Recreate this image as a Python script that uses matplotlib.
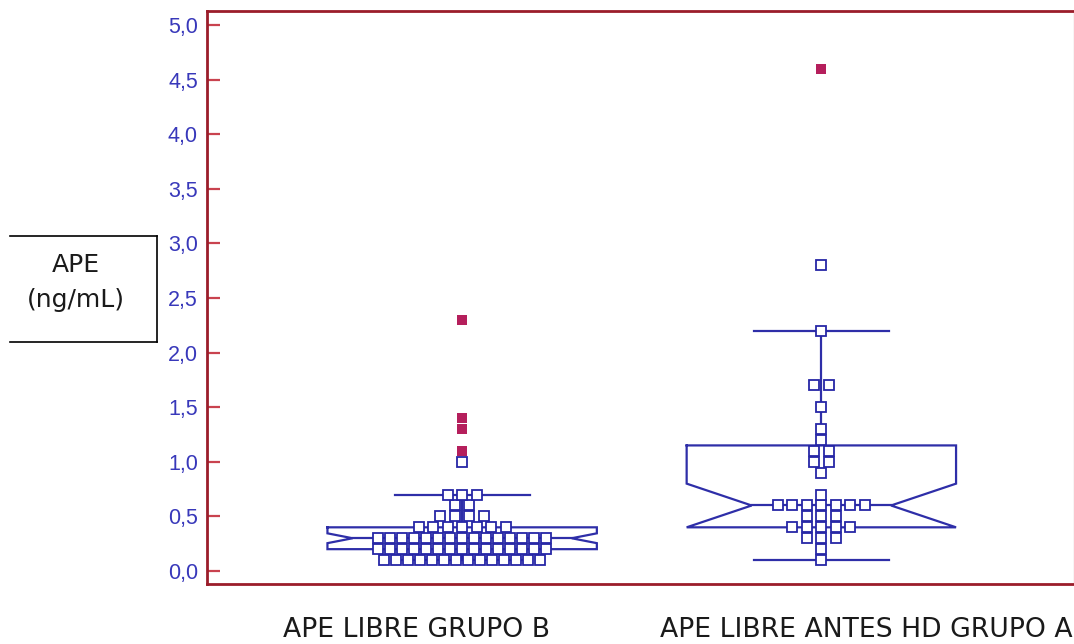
import numpy as np
import matplotlib
matplotlib.use('Agg')
import matplotlib.pyplot as plt
from matplotlib.lines import Line2D

# data (APE libre, ng/mL)
group_labels = ['APE LIBRE GRUPO B', 'APE LIBRE ANTES HD GRUPO A']

# dot values and how many dots sit at each value
b_values = [0.1, 0.2, 0.3, 0.4, 0.5, 0.6, 0.7, 1.0]
b_counts = [14, 15, 15, 7, 4, 2, 3, 1]
b_far_out = [1.1, 1.3, 1.4, 2.3]

a_values = [0.1, 0.2, 0.3, 0.4, 0.5, 0.6, 0.7, 0.9, 1.0, 1.1, 1.2, 1.3, 1.5, 1.7, 2.2, 2.8]
a_counts = [1, 1, 3, 5, 3, 7, 1, 1, 2, 2, 1, 1, 1, 2, 1, 1]
a_far_out = [4.6]

# box statistics: q1, median, q3, lower whisker, upper whisker, notch low, notch high
b_box = [0.20, 0.30, 0.40, 0.10, 0.70, 0.255, 0.345]
a_box = [0.40, 0.60, 1.15, 0.10, 2.20, 0.40, 0.80]

ytick_vals = [0.0, 0.5, 1.0, 1.5, 2.0, 2.5, 3.0, 3.5, 4.0, 4.5, 5.0]

# styling
BLUE = '#2e2ea8'
DOT_EDGE = '#2626a6'
FAR = '#b51f5c'
SPINE = '#9b1d2a'
TICK = '#c9434f'
LABEL = '#3838ba'

px = 1.0 / 359.0          # one pixel in x data units (groups are 359 px apart)
half_w = 0.375            # half width of the boxes
cap_w = 0.188             # half width of the whisker caps
insets = [0.07, 0.181]    # depth of the notches

fig = plt.figure(figsize=(10.74, 6.44), dpi=100)
ax = fig.add_axes([207/1074, 60/644, 866.5/1074, 573/644])


def draw_box(c, stats, inset):
    q1, med, q3, lo, hi, n_lo, n_hi = stats
    xs = [c-half_w, c+half_w, c+half_w, c+half_w-inset, c+half_w, c+half_w,
          c-half_w, c-half_w, c-half_w+inset, c-half_w, c-half_w]
    ys = [q3, q3, n_hi, med, n_lo, q1, q1, n_lo, med, n_hi, q3]
    ax.plot(xs, ys, color=BLUE, lw=1.6, zorder=2, solid_joinstyle='miter')
    ax.plot([c-half_w+inset, c+half_w-inset], [med, med], color=BLUE, lw=1.6, zorder=2)
    # whiskers and caps
    ax.plot([c, c], [q3, hi], color=BLUE, lw=1.6, zorder=2)
    ax.plot([c, c], [q1, lo], color=BLUE, lw=1.6, zorder=2)
    ax.plot([c-cap_w, c+cap_w], [hi, hi], color=BLUE, lw=1.6, zorder=2)
    ax.plot([c-cap_w, c+cap_w], [lo, lo], color=BLUE, lw=1.6, zorder=2)


def dot_positions(c, values, counts):
    xs, ys = [], []
    for v, k in zip(values, counts):
        step = (12 if k >= 10 else 14.5) * px
        for i in range(k):
            xs.append(c + (i - (k-1)/2.0) * step)
            ys.append(v)
    return xs, ys


for c, stats, inset, vals, cnts, far in [(1, b_box, insets[0], b_values, b_counts, b_far_out),
                                         (2, a_box, insets[1], a_values, a_counts, a_far_out)]:
    draw_box(c, stats, inset)
    xs, ys = dot_positions(c, vals, cnts)
    ax.plot(xs, ys, 's', ms=7.2, mfc='white', mec=DOT_EDGE, mew=1.3, zorder=3)
    ax.plot([c]*len(far), far, 's', ms=6.5, mfc=FAR, mec=FAR, mew=0, zorder=3)

ax.set_xlim(1 - 255*px, 2 + 252*px)
ax.set_ylim(-0.119, 5.128)
ax.set_xticks([])
ax.set_yticks(ytick_vals)
ax.set_yticklabels([f'{v:.1f}'.replace('.', ',') for v in ytick_vals],
                   fontsize=15.5, color=LABEL, family='Liberation Sans')
ax.tick_params(axis='y', direction='in', length=9, width=1.6, color=TICK, pad=6.5)

for side in ['left', 'bottom', 'top']:
    ax.spines[side].set_color(SPINE)
    ax.spines[side].set_linewidth(2)
ax.spines['right'].set_color('#e0c8c8')
ax.spines['right'].set_linewidth(1)

# y axis label in a box open on the left
bx0, bx1, by0, by1 = 10/1074, 157/1074, 1 - 236/644, 1 - 342/644
for xx, yy in [([bx0, bx1], [by0, by0]), ([bx1, bx1], [by0, by1]), ([bx0, bx1], [by1, by1])]:
    fig.add_artist(Line2D(xx, yy, transform=fig.transFigure, color='black', lw=1.2))
fig.text(76/1074, 1 - 265/644, 'APE', ha='center', va='center', fontsize=18, color='#1a1a1a')
fig.text(76/1074, 1 - 300/644, '(ng/mL)', ha='center', va='center', fontsize=18, color='#1a1a1a')

# group names under the plot (second one runs off the right edge)
fig.text(283/1074, 1 - 637/644, group_labels[0], ha='left', va='baseline', fontsize=19.2, color='#1a1a1a')
fig.text(660/1074, 1 - 637/644, group_labels[1], ha='left', va='baseline', fontsize=19.2, color='#1a1a1a')

plt.savefig('out.png', dpi=100, facecolor='white')
